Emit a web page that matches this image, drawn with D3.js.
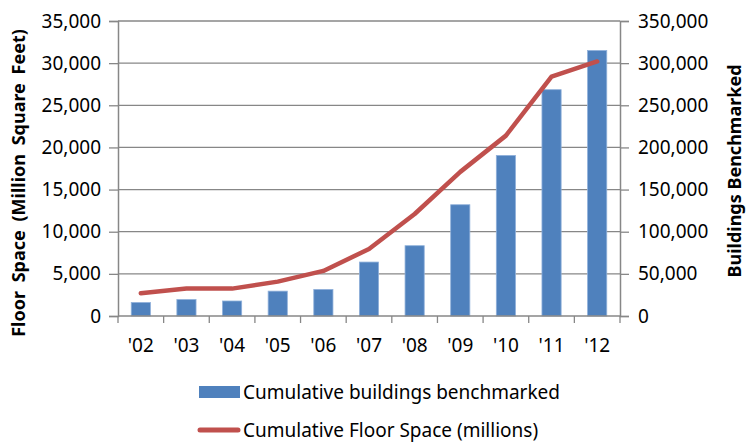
<!DOCTYPE html>
<html>
<head>
<meta charset="utf-8">
<script src="https://cdn.jsdelivr.net/npm/d3@7"></script>
<style>
  body { margin: 0; background: #fff; }
  svg text { font-family: "Noto Sans", "Open Sans", sans-serif; fill: #000; }
</style>
</head>
<body>
<div id="chart"></div>
<script>
// ── Data ──────────────────────────────────────────────────────────────────────
const years = ["'02", "'03", "'04", "'05", "'06", "'07", "'08", "'09", "'10", "'11", "'12"];
const buildings = [16000, 19500, 17800, 29500, 31500, 64000, 83400, 132000, 190500, 268500, 315000];
const floorSpace = [2700, 3270, 3250, 4080, 5350, 7950, 12100, 17100, 21400, 28400, 30200];
const leftTicks = [0, 5000, 10000, 15000, 20000, 25000, 30000, 35000];
const rightTicks = [0, 50000, 100000, 150000, 200000, 250000, 300000, 350000];

const W = 746, H = 443;
const plot = { left: 118, right: 620, top: 21, bottom: 316 };
const barColor = '#4F81BD', lineColor = '#C0504D', gridColor = '#878787';

const svg = d3.select('#chart').append('svg')
  .attr('width', W).attr('height', H)
  .attr('viewBox', `0 0 ${W} ${H}`);

const x = d3.scaleBand()
  .domain(years)
  .range([plot.left, plot.right])
  .paddingInner(0.58)
  .paddingOuter(0.29);
const step = x.step();
const cx = (d) => x(d) + x.bandwidth() / 2;

const yL = d3.scaleLinear().domain([0, 35000]).range([plot.bottom, plot.top]);
const yR = d3.scaleLinear().domain([0, 350000]).range([plot.bottom, plot.top]);

const fmt = d3.format(',');

// Gridlines
svg.append('g')
  .selectAll('line')
  .data(leftTicks.slice(1))
  .join('line')
  .attr('x1', plot.left).attr('x2', plot.right)
  .attr('y1', (d) => yL(d)).attr('y2', (d) => yL(d))
  .attr('stroke', gridColor).attr('stroke-width', 1.3);

// Left axis
const gl = svg.append('g')
  .attr('transform', `translate(${plot.left},0)`)
  .call(d3.axisLeft(yL).tickValues(leftTicks).tickFormat(fmt).tickSize(9).tickPadding(8));
gl.select('.domain').attr('stroke', gridColor).attr('stroke-width', 1.5);
gl.selectAll('.tick line').attr('stroke', gridColor).attr('stroke-width', 1.3);
gl.selectAll('.tick text').attr('font-size', 19).attr('font-family', '"Noto Sans", sans-serif').attr('fill', '#000');

// Right axis
const gr = svg.append('g')
  .attr('transform', `translate(${plot.right},0)`)
  .call(d3.axisRight(yR).tickValues(rightTicks).tickFormat(fmt).tickSize(9).tickPadding(9));
gr.select('.domain').attr('stroke', gridColor).attr('stroke-width', 1.5);
gr.selectAll('.tick line').attr('stroke', gridColor).attr('stroke-width', 1.3);
gr.selectAll('.tick text').attr('font-size', 19).attr('font-family', '"Noto Sans", sans-serif').attr('fill', '#000');

// Bars (right axis)
svg.append('g')
  .selectAll('rect')
  .data(years)
  .join('rect')
  .attr('x', (d) => x(d))
  .attr('width', x.bandwidth())
  .attr('y', (d, i) => yR(buildings[i]))
  .attr('height', (d, i) => plot.bottom - yR(buildings[i]))
  .attr('fill', barColor)
  .attr('stroke', '#8fb0da')
  .attr('stroke-width', 0.8);

// Bottom axis with ticks at category boundaries
svg.append('line')
  .attr('x1', plot.left).attr('x2', plot.right)
  .attr('y1', plot.bottom).attr('y2', plot.bottom)
  .attr('stroke', gridColor).attr('stroke-width', 1.5);
const bounds = years.map((d) => cx(d) - step / 2).concat([plot.right]);
svg.append('g')
  .selectAll('line')
  .data(bounds)
  .join('line')
  .attr('x1', (d) => d).attr('x2', (d) => d)
  .attr('y1', plot.bottom).attr('y2', plot.bottom + 7)
  .attr('stroke', gridColor).attr('stroke-width', 1.3);
svg.append('g')
  .selectAll('text')
  .data(years)
  .join('text')
  .attr('x', (d) => cx(d))
  .attr('y', 352)
  .attr('text-anchor', 'middle')
  .attr('font-size', 19)
  .text((d) => d);

// Line (left axis)
const line = d3.line()
  .x((d, i) => cx(years[i]))
  .y((d) => yL(d));
svg.append('path')
  .datum(floorSpace)
  .attr('d', line)
  .attr('fill', 'none')
  .attr('stroke', lineColor)
  .attr('stroke-width', 4.5)
  .attr('stroke-linejoin', 'round')
  .attr('stroke-linecap', 'round');

// Axis titles
svg.append('text')
  .attr('transform', 'translate(25,183) rotate(-90)')
  .attr('text-anchor', 'middle')
  .attr('font-size', 18)
  .attr('font-weight', 'bold')
  .attr('word-spacing', 4)
  .text('Floor Space  (Million Square Feet)');
svg.append('text')
  .attr('transform', 'translate(741,171) rotate(-90)')
  .attr('text-anchor', 'middle')
  .attr('font-size', 18)
  .attr('font-weight', 'bold')
  .text('Buildings Benchmarked');

// Legend
const lg = svg.append('g');
lg.append('rect')
  .attr('x', 199).attr('y', 386).attr('width', 41).attr('height', 12)
  .attr('fill', barColor);
lg.append('text')
  .attr('x', 243).attr('y', 399)
  .attr('font-size', 19)
  .text('Cumulative buildings benchmarked');
lg.append('line')
  .attr('x1', 200).attr('x2', 238).attr('y1', 430).attr('y2', 430)
  .attr('stroke', lineColor).attr('stroke-width', 5).attr('stroke-linecap', 'round');
lg.append('text')
  .attr('x', 243).attr('y', 437)
  .attr('font-size', 19)
  .text('Cumulative Floor Space (millions)');
</script>
</body>
</html>
